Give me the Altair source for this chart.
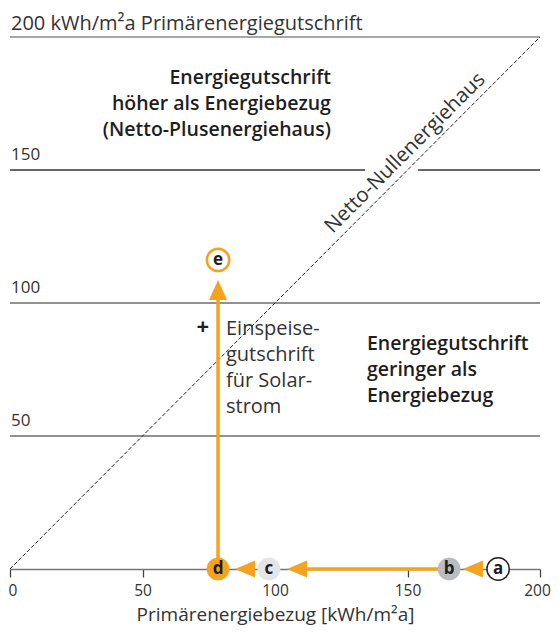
import altair as alt
import pandas as pd

FONT = "Open Sans"
ORANGE = "#F5A31F"

# Points (houses) on the chart
pt_label = ["a", "b", "c", "d", "e"]
pt_x = [184.2, 165.7, 97.7, 78.5, 78.5]
pt_y = [0, 0, 0, 0, 116.2]
pt_fill = ["#FFFFFF", "#B9BDC0", "#E3E5E7", ORANGE, "#FFFFFF"]
pt_stroke = ["#222222", "#B9BDC0", "#E3E5E7", ORANGE, ORANGE]
pt_sw = [1.5, 0.5, 0.5, 0.5, 2.5]

# Arrow shafts
sh_x = [165.7, 78.5]
sh_x2 = [111.5, 78.5]
sh_y = [0, 0]
sh_y2 = [0, 102.0]

# Arrow heads
LEFT = "M-1,0L1,-0.85L1,0.85Z"
UP = "M0,-1L0.9,1L-0.9,1Z"
hd_x = [174.7, 108.3, 88.7, 78.5]
hd_y = [0, 0, 0, 104.9]
hd_shape = [LEFT, LEFT, LEFT, UP]

# Gridlines
gr_y = [50, 100, 150, 150, 200]
gr_x = [0, 0, 0, 154, 0]
gr_x2 = [200, 200, 134, 200, 200]
gr_col = ["#6E6E6E", "#6E6E6E", "#333333", "#333333", "#8A8A8A"]

# Y labels
yl_val = [50, 100, 150, 200]
yl_text = ["50", "100", "150", "200 kWh/m²a Primärenergiegutschrift"]
yl_size = [17, 17, 17, 20]
yl_dy = [-10, -10, -10, -7]

# Annotations
ann_bold_hi = ["Energiegutschrift", "höher als Energiebezug", "(Netto-Plusenergiehaus)"]
ann_bold_hi_y = [184.6, 174.8, 165.0]
ann_bold_lo = ["Energiegutschrift", "geringer als", "Energiebezug"]
ann_bold_lo_y = [84.6, 74.8, 65.0]
ann_feed = ["Einspeise-", "gutschrift", "für Solar-", "strom"]
ann_feed_y = [90.2, 80.5, 70.7, 60.9]

xs = alt.Scale(domain=[0, 200], nice=False)
ys = alt.Scale(domain=[0, 200], nice=False)

grid = alt.Chart(pd.DataFrame({"y": gr_y, "x": gr_x, "x2": gr_x2, "c": gr_col})).mark_rule(strokeWidth=1.3).encode(
    x=alt.X("x:Q", scale=xs, axis=alt.Axis(
        values=[0, 50, 100, 150, 200], title="Primärenergiebezug [kWh/m²a]", grid=False,
        domainColor="#777777", domainWidth=1.3, tickColor="#444444", tickSize=8, tickWidth=1.3,
        labelFont=FONT, labelFontSize=15.5, labelColor="#333333", labelPadding=6,
        labelAlign={"expr": "datum.value == 0 ? 'left' : 'center'"},
        labelOffset={"expr": "datum.value == 0 ? -2 : (datum.value == 200 ? -3 : 0)"},
        titleFont=FONT, titleFontSize=19, titleFontWeight="normal", titleColor="#333333", titlePadding=7,
        labelFlush=False)),
    x2="x2:Q",
    y=alt.Y("y:Q", scale=ys, axis=None),
    color=alt.Color("c:N", scale=None),
)

diag = alt.Chart(pd.DataFrame({"x": [0], "y": [0], "x2": [200], "y2": [200]})).mark_rule(
    strokeWidth=1, strokeDash=[4, 2], color="#222222").encode(
    x=alt.X("x:Q", scale=xs), x2="x2:Q", y=alt.Y("y:Q", scale=ys), y2="y2:Q")

ylab_small = alt.Chart(pd.DataFrame({"y": yl_val[:3], "t": yl_text[:3], "x": [0] * 3})).mark_text(
    align="left", baseline="alphabetic", dx=1, dy=yl_dy[0], font=FONT, fontSize=yl_size[0], color="#333333").encode(
    x=alt.X("x:Q", scale=xs), y=alt.Y("y:Q", scale=ys), text="t:N")

ylab_top = alt.Chart(pd.DataFrame({"y": yl_val[3:], "t": yl_text[3:], "x": [0]})).mark_text(
    align="left", baseline="alphabetic", dx=1, dy=yl_dy[3], font=FONT, fontSize=yl_size[3], color="#333333").encode(
    x=alt.X("x:Q", scale=xs), y=alt.Y("y:Q", scale=ys), text="t:N")

shafts = alt.Chart(pd.DataFrame({"x": sh_x, "x2": sh_x2, "y": sh_y, "y2": sh_y2})).mark_rule(
    strokeWidth=3.5, color=ORANGE).encode(
    x=alt.X("x:Q", scale=xs), x2="x2:Q", y=alt.Y("y:Q", scale=ys), y2="y2:Q")

heads = alt.Chart(pd.DataFrame({"x": hd_x, "y": hd_y, "s": hd_shape})).mark_point(
    filled=True, size=400, color=ORANGE, opacity=1).encode(
    x=alt.X("x:Q", scale=xs), y=alt.Y("y:Q", scale=ys), shape=alt.Shape("s:N", scale=None))

circ = alt.Chart(pd.DataFrame({"x": pt_x, "y": pt_y, "f": pt_fill, "st": pt_stroke, "sw": pt_sw})).mark_point(
    shape="circle", size=500, filled=True, opacity=1).encode(
    x=alt.X("x:Q", scale=xs), y=alt.Y("y:Q", scale=ys),
    fill=alt.Fill("f:N", scale=None), stroke=alt.Stroke("st:N", scale=None),
    strokeWidth=alt.StrokeWidth("sw:Q", scale=None))

letters = alt.Chart(pd.DataFrame({"x": pt_x, "y": pt_y, "t": pt_label})).mark_text(
    font=FONT, fontSize=17, fontWeight="bold", color="#1E1E1E", baseline="middle", dy=0).encode(
    x=alt.X("x:Q", scale=xs), y=alt.Y("y:Q", scale=ys), text="t:N")

hi = alt.Chart(pd.DataFrame({"x": [121.1] * 3, "y": ann_bold_hi_y, "t": ann_bold_hi})).mark_text(
    font=FONT, fontSize=19.5, fontWeight=600, color="#1E1E1E", align="right", baseline="middle").encode(
    x=alt.X("x:Q", scale=xs), y=alt.Y("y:Q", scale=ys), text="t:N")

lo = alt.Chart(pd.DataFrame({"x": [134.7] * 3, "y": ann_bold_lo_y, "t": ann_bold_lo})).mark_text(
    font=FONT, fontSize=19.5, fontWeight=600, color="#1E1E1E", align="left", baseline="middle").encode(
    x=alt.X("x:Q", scale=xs), y=alt.Y("y:Q", scale=ys), text="t:N")

feed = alt.Chart(pd.DataFrame({"x": [81.5] * 4, "y": ann_feed_y, "t": ann_feed})).mark_text(
    font=FONT, fontSize=20, color="#333333", align="left", baseline="middle").encode(
    x=alt.X("x:Q", scale=xs), y=alt.Y("y:Q", scale=ys), text="t:N")

plus = alt.Chart(pd.DataFrame({"x": [72.8], "y": [91.0], "t": ["+"]})).mark_text(
    font=FONT, fontSize=22, fontWeight="bold", color="#1E1E1E", baseline="middle").encode(
    x=alt.X("x:Q", scale=xs), y=alt.Y("y:Q", scale=ys), text="t:N")

netto = alt.Chart(pd.DataFrame({"x": [149.1], "y": [156.4], "t": ["Netto-Nullenergiehaus"]})).mark_text(
    font=FONT, fontSize=20.5, color="#333333", angle=315, baseline="middle").encode(
    x=alt.X("x:Q", scale=xs), y=alt.Y("y:Q", scale=ys), text="t:N")

chart = alt.layer(grid, diag, ylab_small, ylab_top, shafts, heads, circ, letters, hi, lo, feed, plus, netto).properties(
    width=530, height=532,
    autosize=alt.AutoSizeParams(type="none"),
    padding={"left": 2, "top": 29, "right": 11, "bottom": 57},
).configure_view(stroke=None)

chart.save("out.html", embed_options={"renderer": "svg", "actions": False})
